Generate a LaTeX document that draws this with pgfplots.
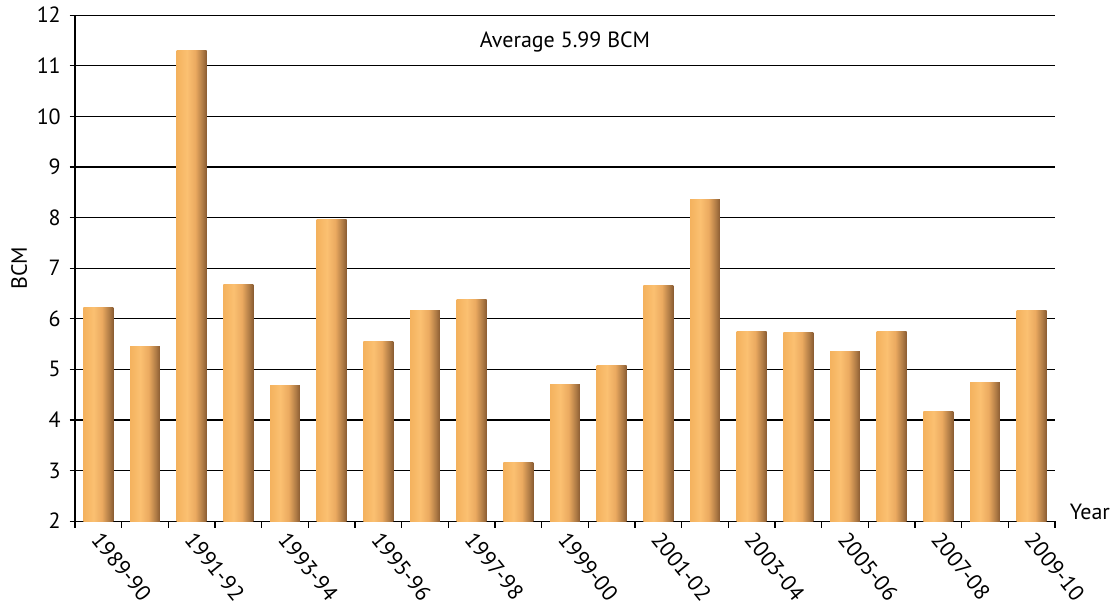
\documentclass[border=0pt]{standalone}
\usepackage{fontspec}
\setmainfont{PT Sans}
\usepackage{pgfplots}
\pgfplotsset{compat=1.18}

\definecolor{barA}{HTML}{F4B25E}
\definecolor{barB}{HTML}{FBC071}
\definecolor{barC}{HTML}{EBAA60}
\definecolor{barD}{HTML}{B07C46}
\definecolor{barE}{HTML}{8A5C32}
\pgfdeclarehorizontalshading{bargrad}{100bp}{%
  color(0bp)=(barA); color(25bp)=(barA); color(42bp)=(barB);
  color(56bp)=(barC); color(68bp)=(barD); color(75bp)=(barE);
  color(100bp)=(barE)}

% one bar per plot, so that each bar gets its own gradient
\newcommand{\yearbar}[2]{%
  \addplot[ybar, bar width=0.64, bar shift=0pt, draw=none, shading=bargrad]
    coordinates {(#1,#2)};}

\begin{document}
\begin{tikzpicture}[x=1pt,y=1pt]
\fontsize{16.5}{19}\selectfont
\begin{axis}[
  scale only axis,
  width=735pt, height=379.5pt,
  xmin=-0.5, xmax=20.5,
  ymin=2, ymax=12,
  ytick={2,3,...,12},
  xtick={0,2,...,20},
  xticklabels={1989-90,1991-92,1993-94,1995-96,1997-98,1999-00,2001-02,2003-04,2005-06,2007-08,2009-10},
  minor xtick={-0.5,0.5,...,20.5},
  major x tick style={draw=none},
  minor x tick style={black, line width=0.9pt},
  y tick style={black, line width=0.9pt},
  minor tick length=5pt,
  major tick length=4pt,
  tick align=outside,
  axis lines*=left,
  axis line style={black, line width=0.9pt},
  ymajorgrids,
  grid style={black, line width=0.9pt},
  /pgf/number format/assume math mode=true,
  tick label style={font=\fontsize{16.5}{19}\selectfont},
  xticklabel style={xshift=4pt, yshift=5pt, rotate=-51, anchor=north west},
  yticklabel style={xshift=-1pt},
  ylabel={BCM},
  ylabel style={font=\fontsize{16.5}{19}\selectfont, yshift=-4pt},
  clip=false,
]
\yearbar{0}{6.22}
\yearbar{1}{5.46}
\yearbar{2}{11.31}
\yearbar{3}{6.68}
\yearbar{4}{4.69}
\yearbar{5}{7.97}
\yearbar{6}{5.56}
\yearbar{7}{6.16}
\yearbar{8}{6.38}
\yearbar{9}{3.15}
\yearbar{10}{4.70}
\yearbar{11}{5.08}
\yearbar{12}{6.66}
\yearbar{13}{8.36}
\yearbar{14}{5.75}
\yearbar{15}{5.72}
\yearbar{16}{5.35}
\yearbar{17}{5.75}
\yearbar{18}{4.17}
\yearbar{19}{4.74}
\yearbar{20}{6.16}
\node[anchor=center, font=\fontsize{16.5}{19}\selectfont] at (axis cs:10,11.46) {Average 5.99 BCM};
\node[anchor=base west, font=\fontsize{16.5}{19}\selectfont, inner sep=0pt] at ([xshift=11pt,yshift=1pt]axis cs:20.5,2) {Year};
\end{axis}
\path (-56.25pt,-63pt) rectangle (783.75pt,389.25pt);
\end{tikzpicture}
\end{document}
